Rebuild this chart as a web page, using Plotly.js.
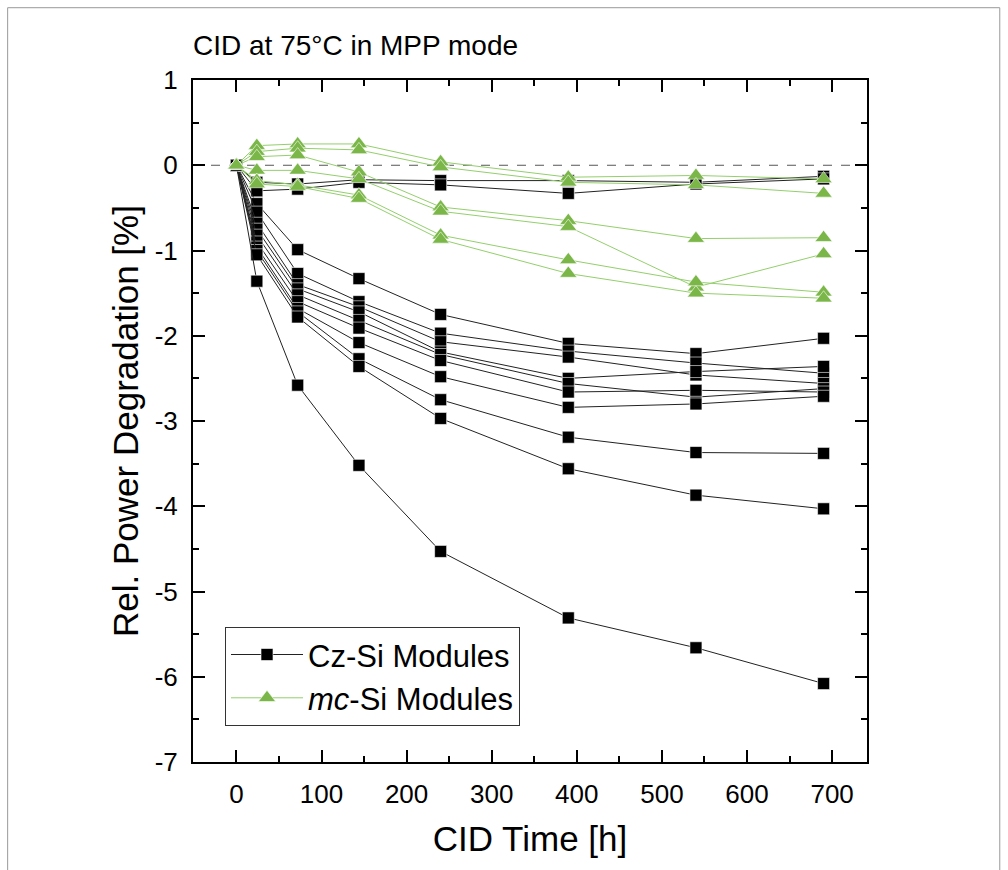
<!DOCTYPE html>
<html>
<head>
<meta charset="utf-8">
<script src="https://cdn.plot.ly/plotly-3.0.1.min.js"></script>
<style>html,body{margin:0;padding:0;background:#fff;}#chart{width:1008px;height:870px;}</style>
</head>
<body>
<div id="chart"></div>
<script>
// CID time [h]
const timeH = [0, 24, 72, 144, 240, 390, 540, 690];
const xTicks = [0, 100, 200, 300, 400, 500, 600, 700];
const yTicks = [1, 0, -1, -2, -3, -4, -5, -6, -7];
const yTickText = ['1', '0', '-1', '-2', '-3', '-4', '-5', '-6', '-7'];

// Cz-Si modules: relative power degradation [%]
const czA = [0, -0.20, -0.22, -0.17, -0.18, -0.18, -0.20, -0.13];
const czB = [0, -0.30, -0.28, -0.20, -0.23, -0.33, -0.22, -0.16];
const czC = [0, -0.45, -0.99, -1.33, -1.75, -2.09, -2.21, -2.03];
const czD = [0, -0.55, -1.27, -1.60, -1.97, -2.18, -2.32, -2.44];
const czE = [0, -0.68, -1.40, -1.66, -2.07, -2.25, -2.46, -2.56];
const czF = [0, -0.75, -1.45, -1.72, -2.19, -2.50, -2.42, -2.36];
const czG = [0, -0.82, -1.52, -1.82, -2.22, -2.56, -2.72, -2.62];
const czH = [0, -0.90, -1.60, -1.91, -2.29, -2.66, -2.64, -2.66];
const czI = [0, -0.96, -1.68, -2.08, -2.48, -2.84, -2.80, -2.71];
const czJ = [0, -1.00, -1.72, -2.27, -2.75, -3.19, -3.37, -3.38];
const czK = [0, -1.05, -1.78, -2.36, -2.97, -3.56, -3.87, -4.03];
const czL = [0, -1.36, -2.58, -3.52, -4.53, -5.31, -5.66, -6.08];

// mc-Si modules: relative power degradation [%]
const mcA = [0, 0.23, 0.25, 0.25, 0.04, -0.14, -0.12, -0.16];
const mcB = [0, 0.16, 0.20, 0.18, -0.02, -0.20, -0.23, -0.33];
const mcC = [0, 0.10, 0.12, -0.08, -0.49, -0.65, -0.86, -0.85];
const mcD = [0, -0.06, -0.06, -0.16, -0.54, -0.72, -1.43, -1.04];
const mcE = [0, -0.18, -0.23, -0.35, -0.82, -1.11, -1.37, -1.49];
const mcF = [0, -0.22, -0.25, -0.39, -0.87, -1.27, -1.50, -1.56];

const czList = [czA, czB, czC, czD, czE, czF, czG, czH, czI, czJ, czK, czL];
const mcList = [mcA, mcB, mcC, mcD, mcE, mcF];
const czName = 'Cz-Si Modules';
const mcName = '<i>mc</i>-Si Modules';

const traces = [];
czList.forEach((ys, i) => {
  traces.push({
    x: timeH, y: ys, type: 'scatter', mode: 'lines+markers',
    name: czName, legendgroup: 'cz', showlegend: i === 0,
    line: {color: '#222222', width: 1},
    marker: {symbol: 'square', size: 12, color: '#000000', line: {color: '#ffffff', width: 0.6}},
    hoverinfo: 'x+y'
  });
});
mcList.forEach((ys, i) => {
  traces.push({
    x: timeH, y: ys, type: 'scatter', mode: 'lines+markers',
    name: mcName, legendgroup: 'mc', showlegend: i === 0,
    line: {color: '#93cf6c', width: 1},
    marker: {symbol: 'triangle-up', size: 15, color: '#7ab648', line: {color: '#ffffff', width: 0.6}},
    hoverinfo: 'x+y'
  });
});

const fontFam = 'Liberation Sans, Arial, sans-serif';
const layout = {
  width: 1008, height: 870,
  margin: {l: 193, r: 141, t: 80, b: 108},
  paper_bgcolor: '#ffffff', plot_bgcolor: '#ffffff',
  font: {family: fontFam, color: '#000000'},
  title: {
    text: 'CID at 75°C in MPP mode',
    font: {size: 28, family: fontFam, color: '#000'},
    xref: 'paper', x: 0, xanchor: 'left',
    yref: 'container', y: 0.948, yanchor: 'middle'
  },
  xaxis: {
    range: [-51, 741],
    tickvals: xTicks,
    ticks: 'inside', ticklen: 12, tickwidth: 2, tickcolor: '#000',
    minor: {ticks: 'inside', ticklen: 6, tickwidth: 2, tickcolor: '#000', dtick: 50, tick0: 0, showgrid: false},
    showline: true, linewidth: 2, linecolor: '#000', mirror: 'ticks',
    showgrid: false, zeroline: false,
    ticklabelstandoff: 8,
    tickfont: {size: 26, family: fontFam, color: '#000'},
    title: {text: 'CID Time [h]', font: {size: 35, family: fontFam, color: '#000'}, standoff: 18}
  },
  yaxis: {
    range: [-7, 1],
    tickvals: yTicks, ticktext: yTickText,
    ticks: 'inside', ticklen: 12, tickwidth: 2, tickcolor: '#000',
    minor: {ticks: 'inside', ticklen: 6, tickwidth: 2, tickcolor: '#000', dtick: 0.5, tick0: 0, showgrid: false},
    showline: true, linewidth: 2, linecolor: '#000', mirror: 'ticks',
    showgrid: false, zeroline: false,
    ticklabelstandoff: 8,
    tickfont: {size: 26, family: fontFam, color: '#000'},
    title: {text: 'Rel. Power Degradation [%]', font: {size: 35, family: fontFam, color: '#000'}, standoff: 5}
  },
  legend: {
    x: 0.0475, y: 0.053, xanchor: 'left', yanchor: 'bottom',
    bgcolor: '#ffffff', bordercolor: '#333333', borderwidth: 1,
    font: {size: 31, family: fontFam, color: '#000'},
    tracegroupgap: 0, itemwidth: 72
  },
  shapes: [
    {type: 'line', xref: 'paper', yref: 'y', x0: 0, x1: 1, y0: 0, y1: 0,
     line: {color: '#555555', width: 1, dash: 'dash'}, layer: 'below'},
    {type: 'line', xref: 'paper', yref: 'paper', x0: -0.275, x1: 1.197, y0: 1.106, y1: 1.106,
     line: {color: '#999999', width: 1}},
    {type: 'line', xref: 'paper', yref: 'paper', x0: -0.275, x1: -0.275, y0: 1.106, y1: -0.16,
     line: {color: '#999999', width: 1}},
    {type: 'line', xref: 'paper', yref: 'paper', x0: 1.197, x1: 1.197, y0: 1.106, y1: -0.16,
     line: {color: '#999999', width: 1}}
  ],
  showlegend: true
};

Plotly.newPlot('chart', traces, layout, {displayModeBar: false, staticPlot: true});
</script>
</body>
</html>
